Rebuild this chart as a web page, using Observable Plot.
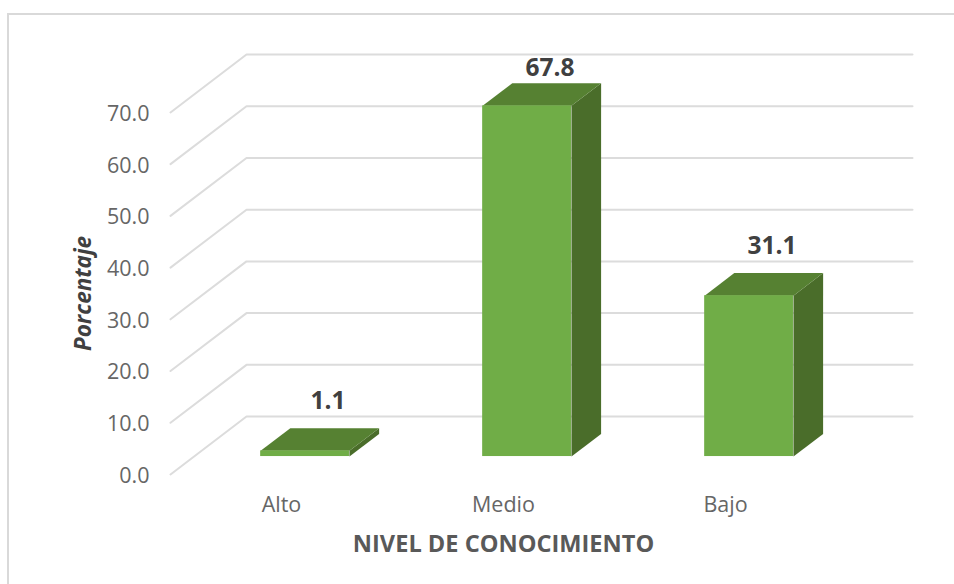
<!DOCTYPE html>
<html>
<head>
<meta charset="utf-8">
<script src="https://cdn.jsdelivr.net/npm/d3@7"></script>
<script src="https://cdn.jsdelivr.net/npm/@observablehq/plot@0.6"></script>
<style>
html,body{margin:0;padding:0;background:#fff;overflow:hidden}
#chart{position:relative;width:954px;height:584px}
#chart svg{display:block;position:absolute;left:0;top:0;background:transparent}
#frame{position:absolute;left:7px;top:13px;right:-5px;bottom:-5px;border:2.5px solid #d9d9d9;box-sizing:border-box}
</style>
</head>
<body>
<div id="chart"><div id="frame"></div></div>
<script>
const categories = ["Alto", "Medio", "Bajo"];
const values = [1.1, 67.8, 31.1];
const yTicks = [0, 10, 20, 30, 40, 50, 60, 70];
const xTitle = "NIVEL DE CONOCIMIENTO";
const yTitle = "Porcentaje";

// Oblique depth of the 3D box, in data units of each scale
const depthX = 0.3423, depthY = 11.2;
const barHalf = 0.2, barNear = 0.31, barFar = 0.70;
const project = (c, v, d) => ({x: c + depthX * d, y: v + depthY * d});

const grid = yTicks.flatMap(t => [
  {t, ...project(-0.5, t, 0)},
  {t, ...project(-0.5, t, 1)},
  {t, ...project(2.5, t, 1)}
]);

const bars = values.map((v, i) => ({category: categories[i], v, i}));
const poly = (b, corners) => corners.map(([c, v, d]) => ({id: b.i, ...project(b.i + c, v, d)}));
const tops = bars.flatMap(b => poly(b, [
  [-barHalf, b.v, barNear], [barHalf, b.v, barNear], [barHalf, b.v, barFar], [-barHalf, b.v, barFar]
]));
const sides = bars.flatMap(b => poly(b, [
  [barHalf, 0, barNear], [barHalf, 0, barFar], [barHalf, b.v, barFar], [barHalf, b.v, barNear]
]));

const labelY = b => Math.min(b.v + depthY * barFar + 5.3, 78.5);
const font = "'Open Sans', sans-serif";
const gray = "#666666";

const plot = Plot.plot({
  width: 954,
  height: 584,
  marginLeft: 170,
  marginRight: 42,
  marginTop: 54,
  marginBottom: 110,
  style: {fontFamily: font, background: "transparent"},
  x: {type: "linear", domain: [-0.5, 2.5 + depthX]},
  y: {type: "linear", domain: [0, 70 + depthY]},
  marks: [
    Plot.line(grid, {x: "x", y: "y", z: "t", stroke: "#dcdcdc", strokeWidth: 2}),
    Plot.line(sides, {x: "x", y: "y", z: "id", fill: "#4a6d2a", stroke: "none"}),
    Plot.line(tops, {x: "x", y: "y", z: "id", fill: "#568132", stroke: "none"}),
    Plot.rect(bars, {
      x1: b => project(b.i - barHalf, 0, barNear).x,
      x2: b => project(b.i + barHalf, 0, barNear).x,
      y1: b => project(0, 0, barNear).y,
      y2: b => project(0, b.v, barNear).y,
      fill: "#70ad47"
    }),
    Plot.axisY({ticks: yTicks, tickSize: 0, tickPadding: 21, tickFormat: d3.format(".1f"), label: null, fontSize: 21.5, color: gray, dy: 1.5}),
    Plot.axisX({ticks: [0, 1, 2], tickSize: 0, tickPadding: 22, tickFormat: i => categories[i], label: null, fontSize: 21.5, color: gray}),
    Plot.text(bars, {
      x: b => project(b.i, 0, barNear).x,
      y: labelY,
      dx: 23,
      text: b => d3.format(".1f")(b.v),
      fontSize: 24.5,
      fontWeight: 700,
      fill: "#404040"
    }),
    Plot.text([xTitle], {x: 1, y: 0, dy: 70, text: d => d, fontSize: 23.6, fontWeight: 700, fill: "#595959"}),
    Plot.text([yTitle], {x: -0.5, y: 35, dx: -87, rotate: -90, text: d => d, fontSize: 22.5, fontWeight: 700, fontStyle: "italic", fill: "#404040"})
  ]
});
document.getElementById("chart").appendChild(plot);
</script>
</body>
</html>
